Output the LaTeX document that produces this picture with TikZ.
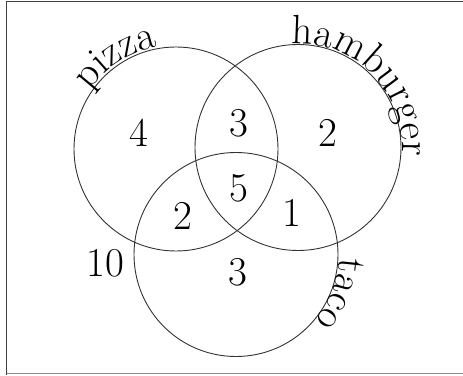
\documentclass[tikz,border=0pt]{standalone}
\usetikzlibrary{decorations.text}
\begin{document}
\begin{tikzpicture}[x=1pt,y=1pt,
  setc/.style={circle, draw=black!80, line width=0.9pt, minimum size=#1, inner sep=0pt},
  num/.style={font=\fontsize{41}{43}\selectfont, inner sep=0pt},
  lbl/.style={decorate, decoration={text along path, text align=center, text={|\fontsize{41}{43}\selectfont|#1}}}]
\useasboundingbox (0,0) rectangle (463,375);
\draw[line width=1.4pt, black!75] (6.5,0) -- (6.5,373.5) -- (463,373.5);
\draw[line width=1.2pt, black!45] (6.5,1.2) -- (463,1.2);
\node[setc=204pt] (pizza) at (176,226) {};
\node[setc=206pt] (hamb) at (298,227.5) {};
\node[setc=204pt] (taco) at (236,120.5) {};
\path[lbl=pizza] (pizza.center) ++(152:104) arc (152:94:104);
\path[lbl=hamburger] (hamb.center) ++(97:104) arc (97:-8:104);
\path[lbl=taco] (taco.center) ++(2:103) arc (2:-44:103);
\node[num] (n4) at (139,242) {4};
\node[num] (n3a) at (239,252) {3};
\node[num] (n2a) at (328,242) {2};
\node[num] (n5) at (239,187) {5};
\node[num] (n2b) at (183,159) {2};
\node[num] (n1) at (292,162) {1};
\node[num] (n10) at (105,112) {10};
\node[num] (n3b) at (238,103) {3};
\end{tikzpicture}
\end{document}
